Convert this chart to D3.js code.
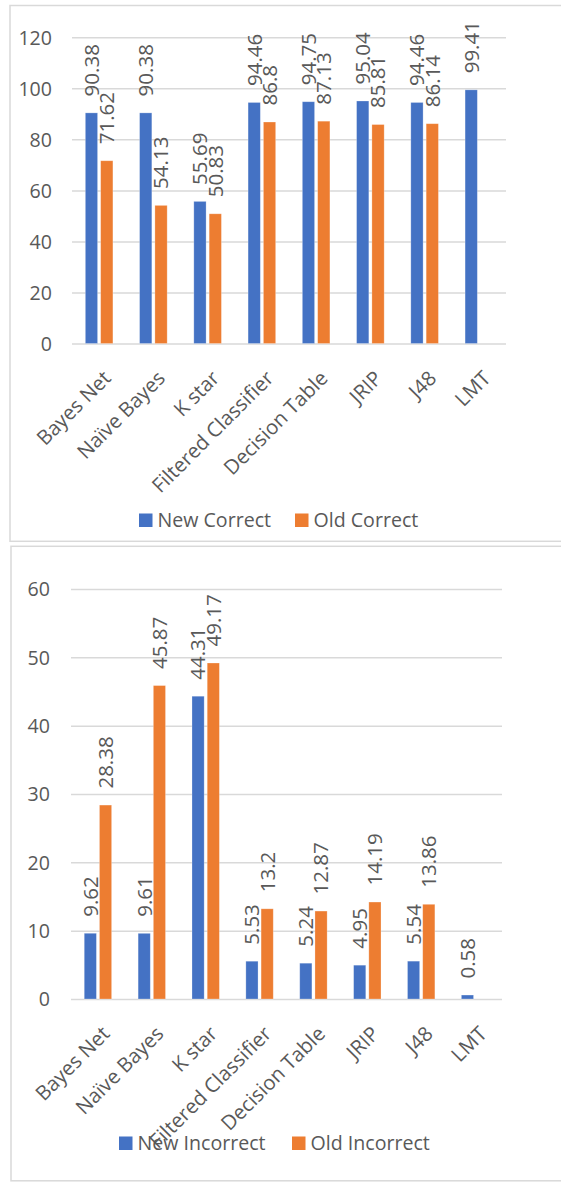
<!DOCTYPE html>
<html>
<head>
<meta charset="utf-8">
<script src="https://cdn.jsdelivr.net/npm/d3@7"></script>
<style>
  html, body { margin: 0; padding: 0; background: #fff; }
  svg { display: block; }
  text { font-family: "Open Sans", "DejaVu Sans", sans-serif; fill: #595959; }
</style>
</head>
<body>
<svg id="chart" width="561" height="1182"></svg>
<script>
// Classifier accuracy comparison: correct / incorrect classification rates (%)
const categories = ["Bayes Net", "Naïve Bayes", "K star", "Filtered Classifier",
                    "Decision Table", "JRIP", "J48", "LMT"];

const newCorrect   = [90.38, 90.38, 55.69, 94.46, 94.75, 95.04, 94.46, 99.41];
const oldCorrect   = [71.62, 54.13, 50.83, 86.8, 87.13, 85.81, 86.14, null];

const newIncorrect = [9.62, 9.61, 44.31, 5.53, 5.24, 4.95, 5.54, 0.58];
const oldIncorrect = [28.38, 45.87, 49.17, 13.2, 12.87, 14.19, 13.86, null];

const correctTicks   = [0, 20, 40, 60, 80, 100, 120];
const incorrectTicks = [0, 10, 20, 30, 40, 50, 60];

const colors = { new: "#4472C4", old: "#ED7D31" };

const svg = d3.select("#chart");

function drawPanel(cfg) {
  const g = svg.append("g");

  // panel frame
  g.append("rect")
    .attr("x", cfg.frame.x).attr("y", cfg.frame.y)
    .attr("width", cfg.frame.w).attr("height", cfg.frame.h)
    .attr("fill", "#fff").attr("stroke", "#d9d9d9").attr("stroke-width", 1.5);

  const x = d3.scaleBand().domain(categories).range([cfg.left, cfg.right]).padding(0);
  const y = d3.scaleLinear().domain([0, d3.max(cfg.ticks)]).range([cfg.bottom, cfg.top]);
  const sub = d3.scaleBand().domain(["new", "old"]).range([0, x.bandwidth()])
    .paddingInner(0.2).paddingOuter(0.87);

  // horizontal gridlines + y labels
  const yAxis = d3.axisLeft(y).tickValues(cfg.ticks).tickSize(-(cfg.right - cfg.left)).tickPadding(0);
  const ya = g.append("g").attr("transform", `translate(${cfg.left},0)`).call(yAxis);
  ya.select(".domain").remove();
  ya.selectAll(".tick line").attr("stroke", "#d9d9d9").attr("stroke-width", 1.5);
  ya.selectAll(".tick text")
    .attr("x", cfg.yLabelX - cfg.left)
    .attr("dy", "0.35em")
    .attr("text-anchor", "end")
    .style("font-size", "19.6px")
    .style("font-family", "'Open Sans', sans-serif")
    .attr("fill", "#595959");

  const series = [
    { key: "new", values: cfg.newVals },
    { key: "old", values: cfg.oldVals }
  ];

  const rows = [];
  series.forEach(s => s.values.forEach((v, i) => {
    if (v !== null) rows.push({ key: s.key, cat: categories[i], value: v });
  }));

  // bars
  g.append("g").selectAll("rect").data(rows).join("rect")
    .attr("x", d => x(d.cat) + sub(d.key))
    .attr("y", d => y(d.value))
    .attr("width", sub.bandwidth())
    .attr("height", d => y(0) - y(d.value))
    .attr("fill", d => colors[d.key])
    .attr("stroke", "#fff").attr("stroke-opacity", 0.35).attr("stroke-width", 0.75);

  // rotated value labels
  g.append("g").selectAll("text").data(rows).join("text")
    .attr("transform", d => `translate(${x(d.cat) + sub(d.key) + sub.bandwidth() / 2},${y(d.value) - 16.5}) rotate(-90)`)
    .attr("dy", "0.36em")
    .attr("text-anchor", "start")
    .style("font-size", "20.5px")
    .text(d => String(d.value));

  // category labels at -45°
  g.append("g").selectAll("text").data(categories).join("text")
    .attr("transform", d => `translate(${x(d) + x.bandwidth() / 2 + 13},${cfg.bottom + 36}) rotate(-45)`)
    .attr("text-anchor", "end")
    .style("font-size", "20.3px")
    .text(d => d);

  // legend
  const lg = g.append("g");
  cfg.legend.forEach(item => {
    lg.append("rect")
      .attr("x", item.x).attr("y", cfg.legendY - 13.5)
      .attr("width", 13.5).attr("height", 13.5)
      .attr("fill", colors[item.key]);
    lg.append("text")
      .attr("x", item.x + 18.5).attr("y", cfg.legendY)
      .style("font-size", "19.6px")
      .text(item.label);
  });
}

drawPanel({
  frame: { x: 10, y: 5.5, w: 560, h: 535.8 },
  left: 72, right: 506, top: 37.3, bottom: 343.5,
  yLabelX: 52,
  ticks: correctTicks,
  newVals: newCorrect, oldVals: oldCorrect,
  legendY: 527,
  legend: [
    { key: "new", label: "New Correct", x: 139 },
    { key: "old", label: "Old Correct", x: 295 }
  ]
});

drawPanel({
  frame: { x: 11, y: 546.3, w: 560, h: 634.5 },
  left: 71, right: 502, top: 589, bottom: 999,
  yLabelX: 50,
  ticks: incorrectTicks,
  newVals: newIncorrect, oldVals: oldIncorrect,
  legendY: 1150,
  legend: [
    { key: "new", label: "New Incorrect", x: 119 },
    { key: "old", label: "Old Incorrect", x: 292 }
  ]
});
</script>
</body>
</html>
